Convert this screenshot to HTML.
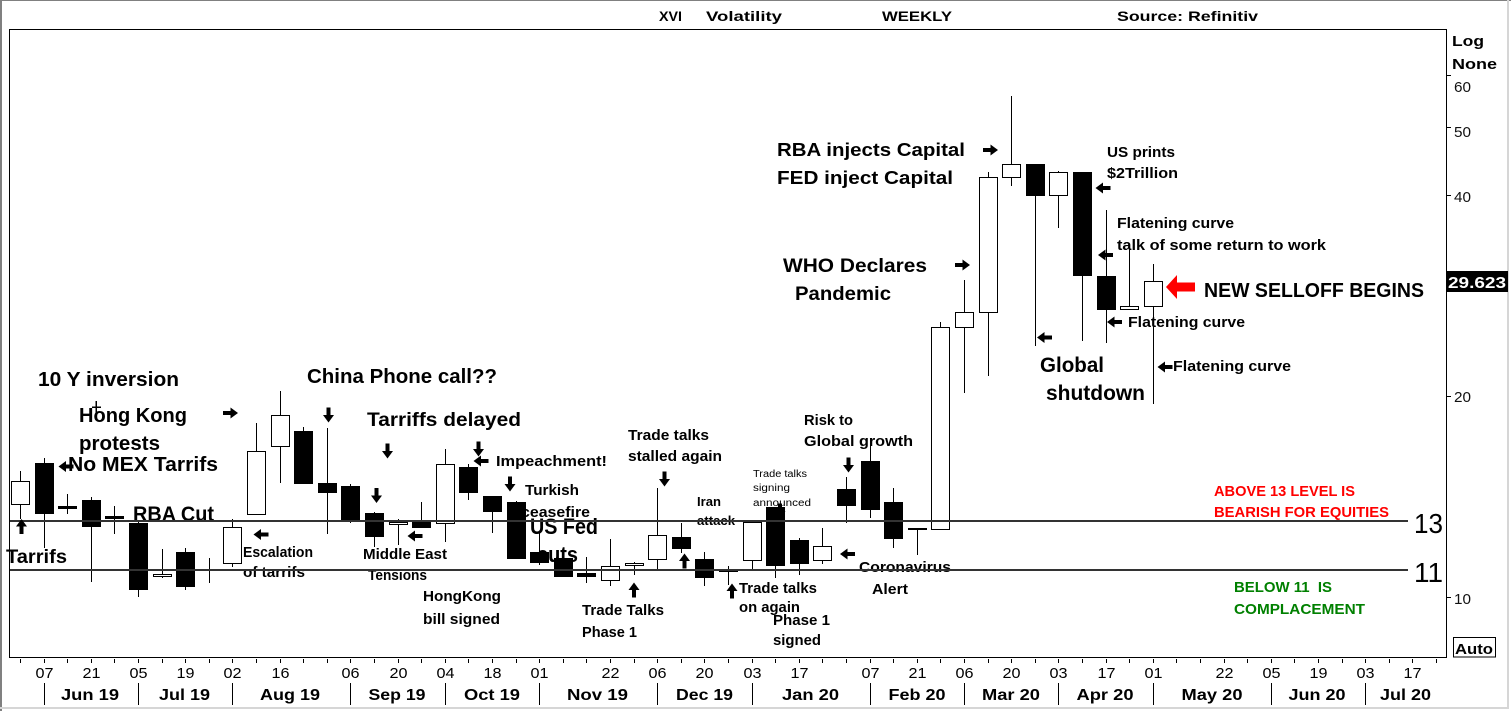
<!DOCTYPE html>
<html><head><meta charset="utf-8"><style>
html,body{margin:0;padding:0;background:#fff;}
svg{display:block;font-family:"Liberation Sans",Arial,sans-serif;}
</style></head><body>
<svg width="1511" height="711" viewBox="0 0 1511 711" xmlns="http://www.w3.org/2000/svg">
<defs>
<path id="ar" d="M-7.5,-2 H0 V-5.5 L7.5,0 L0,5.5 V2 H-7.5 Z" fill="#000"/>
</defs>
<rect x="0" y="0" width="1511" height="711" fill="#fff"/>
<!-- outer window borders -->
<rect x="0" y="0" width="2" height="711" fill="#808080"/>
<rect x="0" y="0" width="1511" height="1" fill="#808080"/>
<rect x="1507" y="0" width="2" height="709" fill="#d6d6d6"/>
<rect x="0" y="707" width="1509" height="2" fill="#d6d6d6"/>

<!-- header -->
<g font-weight="bold" font-size="14" fill="#000">
<text x="659" y="21" textLength="23" lengthAdjust="spacingAndGlyphs">XVI</text>
<text x="706" y="21" textLength="76" lengthAdjust="spacingAndGlyphs">Volatility</text>
<text x="882" y="21" textLength="70" lengthAdjust="spacingAndGlyphs">WEEKLY</text>
<text x="1117" y="21" textLength="141" lengthAdjust="spacingAndGlyphs">Source: Refinitiv</text>
</g>

<!-- annotations (under candles) -->
<g font-weight="bold" fill="#000" lengthAdjust="spacingAndGlyphs">
<text x="38" y="386" font-size="20" textLength="141" lengthAdjust="spacingAndGlyphs">10 Y inversion</text>
<text x="79" y="422" font-size="20" textLength="108" lengthAdjust="spacingAndGlyphs">Hong Kong</text>
<text x="79" y="450" font-size="20" textLength="81" lengthAdjust="spacingAndGlyphs">protests</text>
<text x="68" y="471" font-size="20" textLength="150" lengthAdjust="spacingAndGlyphs">No MEX Tarrifs</text>
<text x="133" y="521" font-size="21" textLength="81" lengthAdjust="spacingAndGlyphs">RBA Cut</text>
<text x="6" y="563" font-size="19" textLength="61" lengthAdjust="spacingAndGlyphs">Tarrifs</text>
<text x="307" y="383" font-size="20" textLength="190" lengthAdjust="spacingAndGlyphs">China Phone call??</text>
<text x="367" y="426" font-size="19" textLength="154" lengthAdjust="spacingAndGlyphs">Tarriffs delayed</text>
<text x="777" y="156" font-size="18" textLength="188" lengthAdjust="spacingAndGlyphs">RBA injects Capital</text>
<text x="777" y="184" font-size="18" textLength="176" lengthAdjust="spacingAndGlyphs">FED inject Capital</text>
<text x="783" y="272" font-size="19" textLength="144" lengthAdjust="spacingAndGlyphs">WHO Declares</text>
<text x="795" y="300" font-size="19" textLength="96" lengthAdjust="spacingAndGlyphs">Pandemic</text>
<text x="1040" y="372" font-size="21" textLength="64" lengthAdjust="spacingAndGlyphs">Global</text>
<text x="1046" y="400" font-size="21" textLength="99" lengthAdjust="spacingAndGlyphs">shutdown</text>
<text x="1204" y="297" font-size="20" textLength="220" lengthAdjust="spacingAndGlyphs">NEW SELLOFF BEGINS</text>
<text x="530" y="534" font-size="22" textLength="68" lengthAdjust="spacingAndGlyphs">US Fed</text>
<text x="537" y="562" font-size="22" textLength="41" lengthAdjust="spacingAndGlyphs">cuts</text>

<text x="243" y="557" font-size="15" textLength="70" lengthAdjust="spacingAndGlyphs">Escalation</text>
<text x="243" y="577" font-size="15" textLength="62" lengthAdjust="spacingAndGlyphs">of tarrifs</text>
<text x="363" y="559" font-size="15" textLength="84" lengthAdjust="spacingAndGlyphs">Middle East</text>
<text x="368" y="580" font-size="15" textLength="59" lengthAdjust="spacingAndGlyphs">Tensions</text>
<text x="423" y="601" font-size="15" textLength="78" lengthAdjust="spacingAndGlyphs">HongKong</text>
<text x="423" y="624" font-size="15" textLength="77" lengthAdjust="spacingAndGlyphs">bill signed</text>
<text x="496" y="466" font-size="15" textLength="111" lengthAdjust="spacingAndGlyphs">Impeachment!</text>
<text x="525" y="495" font-size="15" textLength="54" lengthAdjust="spacingAndGlyphs">Turkish</text>
<text x="521" y="517" font-size="15" textLength="69" lengthAdjust="spacingAndGlyphs">ceasefire</text>
<text x="628" y="440" font-size="15" textLength="81" lengthAdjust="spacingAndGlyphs">Trade talks</text>
<text x="628" y="461" font-size="15" textLength="94" lengthAdjust="spacingAndGlyphs">stalled again</text>
<text x="697" y="506" font-size="13" textLength="24" lengthAdjust="spacingAndGlyphs">Iran</text>
<text x="697" y="525" font-size="13" textLength="38" lengthAdjust="spacingAndGlyphs">attack</text>
<text x="739" y="593" font-size="15" textLength="78" lengthAdjust="spacingAndGlyphs">Trade talks</text>
<text x="739" y="612" font-size="15" textLength="61" lengthAdjust="spacingAndGlyphs">on again</text>
<text x="773" y="625" font-size="15" textLength="57" lengthAdjust="spacingAndGlyphs">Phase 1</text>
<text x="773" y="645" font-size="15" textLength="48" lengthAdjust="spacingAndGlyphs">signed</text>
<text x="582" y="615" font-size="15" textLength="82" lengthAdjust="spacingAndGlyphs">Trade Talks</text>
<text x="582" y="637" font-size="15" textLength="55" lengthAdjust="spacingAndGlyphs">Phase 1</text>
<text x="804" y="425" font-size="15" textLength="49" lengthAdjust="spacingAndGlyphs">Risk to</text>
<text x="804" y="446" font-size="15" textLength="109" lengthAdjust="spacingAndGlyphs">Global growth</text>
<text x="859" y="572" font-size="15" textLength="92" lengthAdjust="spacingAndGlyphs">Coronavirus</text>
<text x="872" y="594" font-size="15" textLength="36" lengthAdjust="spacingAndGlyphs">Alert</text>
<text x="1107" y="157" font-size="15" textLength="68" lengthAdjust="spacingAndGlyphs">US prints</text>
<text x="1107" y="178" font-size="15" textLength="71" lengthAdjust="spacingAndGlyphs">$2Trillion</text>
<text x="1117" y="228" font-size="15" textLength="117" lengthAdjust="spacingAndGlyphs">Flatening curve</text>
<text x="1117" y="250" font-size="15" textLength="209" lengthAdjust="spacingAndGlyphs">talk of some return to work</text>
<text x="1128" y="327" font-size="15" textLength="117" lengthAdjust="spacingAndGlyphs">Flatening curve</text>
<text x="1173" y="371" font-size="15" textLength="118" lengthAdjust="spacingAndGlyphs">Flatening curve</text>

<text x="1214" y="496" font-size="15" fill="#ff0000" textLength="141" lengthAdjust="spacingAndGlyphs">ABOVE 13 LEVEL IS</text>
<text x="1214" y="517" font-size="15" fill="#ff0000" textLength="175" lengthAdjust="spacingAndGlyphs">BEARISH FOR EQUITIES</text>
<text x="1234" y="592" font-size="15" fill="#008000" textLength="98" lengthAdjust="spacingAndGlyphs" xml:space="preserve">BELOW 11  IS</text>
<text x="1234" y="614" font-size="15" fill="#008000" textLength="131" lengthAdjust="spacingAndGlyphs">COMPLACEMENT</text>
</g>
<g font-size="10" fill="#000">
<text x="753" y="477" textLength="54" lengthAdjust="spacingAndGlyphs">Trade talks</text>
<text x="753" y="491" textLength="37" lengthAdjust="spacingAndGlyphs">signing</text>
<text x="753" y="506" textLength="58" lengthAdjust="spacingAndGlyphs">announced</text>
</g>
<!-- small cross on Hong Kong -->
<g stroke="#000" stroke-width="1.5" shape-rendering="crispEdges">
<line x1="96" y1="401" x2="96" y2="413"/>
<line x1="92" y1="407" x2="101" y2="407"/>
</g>

<!-- candles -->
<g stroke="#000" stroke-width="1" shape-rendering="crispEdges">
<line x1="20.5" y1="471" x2="20.5" y2="519"/><rect x="11.5" y="481.5" width="18" height="23" fill="#fff"/>
<line x1="44.5" y1="458" x2="44.5" y2="548"/><rect x="35.5" y="463.5" width="18" height="50" fill="#000"/>
<line x1="67.5" y1="494" x2="67.5" y2="514"/><rect x="58.5" y="506.5" width="18" height="2" fill="#000"/>
<line x1="91.5" y1="497" x2="91.5" y2="582"/><rect x="82.5" y="500.5" width="18" height="26" fill="#000"/>
<line x1="114.5" y1="506" x2="114.5" y2="534"/><rect x="105.5" y="516.5" width="18" height="2" fill="#000"/>
<line x1="138.5" y1="522" x2="138.5" y2="597"/><rect x="129.5" y="523.5" width="18" height="66" fill="#000"/>
<line x1="162.5" y1="549" x2="162.5" y2="578"/><rect x="153.5" y="574.5" width="18" height="2" fill="#fff"/>
<line x1="185.5" y1="548" x2="185.5" y2="590"/><rect x="176.5" y="552.5" width="18" height="34" fill="#000"/>
<line x1="209.5" y1="558" x2="209.5" y2="583"/>
<line x1="232.5" y1="519" x2="232.5" y2="567"/><rect x="223.5" y="527.5" width="18" height="36" fill="#fff"/>
<line x1="256.5" y1="423" x2="256.5" y2="514"/><rect x="247.5" y="451.5" width="18" height="63" fill="#fff"/>
<line x1="280.5" y1="391" x2="280.5" y2="483"/><rect x="271.5" y="415.5" width="18" height="31" fill="#fff"/>
<line x1="303.5" y1="427" x2="303.5" y2="483"/><rect x="294.5" y="431.5" width="18" height="52" fill="#000"/>
<line x1="327.5" y1="428" x2="327.5" y2="534"/><rect x="318.5" y="483.5" width="18" height="9" fill="#000"/>
<line x1="350.5" y1="484" x2="350.5" y2="523"/><rect x="341.5" y="486.5" width="18" height="34" fill="#000"/>
<line x1="374.5" y1="512" x2="374.5" y2="547"/><rect x="365.5" y="513.5" width="18" height="23" fill="#000"/>
<line x1="398.5" y1="519" x2="398.5" y2="545"/><rect x="389.5" y="522.5" width="18" height="2" fill="#fff"/>
<line x1="421.5" y1="502" x2="421.5" y2="527"/><rect x="412.5" y="521.5" width="18" height="6" fill="#000"/>
<line x1="445.5" y1="449" x2="445.5" y2="542"/><rect x="436.5" y="464.5" width="18" height="59" fill="#fff"/>
<line x1="468.5" y1="464" x2="468.5" y2="500"/><rect x="459.5" y="467.5" width="18" height="25" fill="#000"/>
<line x1="492.5" y1="496" x2="492.5" y2="533"/><rect x="483.5" y="496.5" width="18" height="15" fill="#000"/>
<line x1="516.5" y1="501" x2="516.5" y2="559"/><rect x="507.5" y="502.5" width="18" height="56" fill="#000"/>
<line x1="539.5" y1="533" x2="539.5" y2="565"/><rect x="530.5" y="552.5" width="18" height="10" fill="#000"/>
<line x1="563.5" y1="557" x2="563.5" y2="577"/><rect x="554.5" y="558.5" width="18" height="18" fill="#000"/>
<line x1="586.5" y1="557" x2="586.5" y2="583"/><rect x="577.5" y="573.5" width="18" height="3" fill="#000"/>
<line x1="610.5" y1="539" x2="610.5" y2="586"/><rect x="601.5" y="566.5" width="18" height="14" fill="#fff"/>
<line x1="634.5" y1="562" x2="634.5" y2="575"/><rect x="625.5" y="563.5" width="18" height="2" fill="#fff"/>
<line x1="657.5" y1="488" x2="657.5" y2="569"/><rect x="648.5" y="535.5" width="18" height="24" fill="#fff"/>
<line x1="681.5" y1="523" x2="681.5" y2="553"/><rect x="672.5" y="537.5" width="18" height="11" fill="#000"/>
<line x1="704.5" y1="552" x2="704.5" y2="586"/><rect x="695.5" y="559.5" width="18" height="18" fill="#000"/>
<line x1="728.5" y1="566" x2="728.5" y2="585"/><rect x="719.5" y="570.5" width="18" height="1" fill="#000"/>
<line x1="752.5" y1="522" x2="752.5" y2="569"/><rect x="743.5" y="522.5" width="18" height="38" fill="#fff"/>
<line x1="775.5" y1="507" x2="775.5" y2="578"/><rect x="766.5" y="507.5" width="18" height="58" fill="#000"/>
<line x1="799.5" y1="538" x2="799.5" y2="575"/><rect x="790.5" y="540.5" width="18" height="23" fill="#000"/>
<line x1="822.5" y1="528" x2="822.5" y2="564"/><rect x="813.5" y="546.5" width="18" height="14" fill="#fff"/>
<line x1="846.5" y1="477" x2="846.5" y2="523"/><rect x="837.5" y="489.5" width="18" height="16" fill="#000"/>
<line x1="870.5" y1="445" x2="870.5" y2="518"/><rect x="861.5" y="461.5" width="18" height="48" fill="#000"/>
<line x1="893.5" y1="488" x2="893.5" y2="548"/><rect x="884.5" y="502.5" width="18" height="36" fill="#000"/>
<line x1="917.5" y1="529" x2="917.5" y2="555"/><rect x="908.5" y="528.5" width="18" height="1" fill="#000"/>
<line x1="940.5" y1="322" x2="940.5" y2="529"/><rect x="931.5" y="327.5" width="18" height="202" fill="#fff"/>
<line x1="964.5" y1="280" x2="964.5" y2="393"/><rect x="955.5" y="312.5" width="18" height="15" fill="#fff"/>
<line x1="988.5" y1="172" x2="988.5" y2="376"/><rect x="979.5" y="177.5" width="18" height="135" fill="#fff"/>
<line x1="1011.5" y1="96" x2="1011.5" y2="186"/><rect x="1002.5" y="164.5" width="18" height="13" fill="#fff"/>
<line x1="1035.5" y1="164" x2="1035.5" y2="346"/><rect x="1026.5" y="164.5" width="18" height="31" fill="#000"/>
<line x1="1058.5" y1="171" x2="1058.5" y2="228"/><rect x="1049.5" y="172.5" width="18" height="23" fill="#fff"/>
<line x1="1082.5" y1="172" x2="1082.5" y2="341"/><rect x="1073.5" y="172.5" width="18" height="103" fill="#000"/>
<line x1="1106.5" y1="210" x2="1106.5" y2="343"/><rect x="1097.5" y="276.5" width="18" height="33" fill="#000"/>
<line x1="1129.5" y1="248" x2="1129.5" y2="309"/><rect x="1120.5" y="306.5" width="18" height="3" fill="#fff"/>
<line x1="1153.5" y1="264" x2="1153.5" y2="404"/><rect x="1144.5" y="281.5" width="18" height="25" fill="#fff"/>
</g>

<!-- 13 / 11 level lines -->
<g stroke="#333" stroke-width="2" shape-rendering="crispEdges">
<line x1="10" y1="521" x2="1408" y2="521"/>
<line x1="10" y1="570" x2="1408" y2="570"/>
</g>
<text x="1414" y="533" font-size="28" fill="#000" textLength="29" lengthAdjust="spacingAndGlyphs">13</text>
<text x="1414" y="582" font-size="28" fill="#000" textLength="29" lengthAdjust="spacingAndGlyphs">11</text>

<!-- arrows -->
<g>
<use href="#ar" transform="translate(21.5,526.5) rotate(-90)"/>
<use href="#ar" transform="translate(66,466.5) rotate(180)"/>
<use href="#ar" transform="translate(230.5,413)"/>
<use href="#ar" transform="translate(328.5,415) rotate(90)"/>
<use href="#ar" transform="translate(387.5,451) rotate(90)"/>
<use href="#ar" transform="translate(376.5,495.5) rotate(90)"/>
<use href="#ar" transform="translate(261,534.5) rotate(180)"/>
<use href="#ar" transform="translate(415,536) rotate(180)"/>
<use href="#ar" transform="translate(478.5,449) rotate(90)"/>
<use href="#ar" transform="translate(481,461) rotate(180)"/>
<use href="#ar" transform="translate(510,484) rotate(90)"/>
<use href="#ar" transform="translate(664.5,479) rotate(90)"/>
<use href="#ar" transform="translate(634,590) rotate(-90)"/>
<use href="#ar" transform="translate(684.5,561) rotate(-90)"/>
<use href="#ar" transform="translate(732,591) rotate(-90)"/>
<use href="#ar" transform="translate(780,511) rotate(90)"/>
<use href="#ar" transform="translate(847.5,554) rotate(180)"/>
<use href="#ar" transform="translate(848.5,465) rotate(90)"/>
<use href="#ar" transform="translate(962.5,265)"/>
<use href="#ar" transform="translate(990.5,150)"/>
<use href="#ar" transform="translate(1044.5,337.5) rotate(180)"/>
<use href="#ar" transform="translate(1103,188) rotate(180)"/>
<use href="#ar" transform="translate(1105.5,255) rotate(180)"/>
<use href="#ar" transform="translate(1114.5,322) rotate(180)"/>
<use href="#ar" transform="translate(1165,367) rotate(180)"/>
</g>
<path d="M1166,287 L1177,275 L1177,282.5 L1195,282.5 L1195,291.5 L1177,291.5 L1177,299 Z" fill="#ff0000"/>

<!-- plot frame -->
<rect x="9.5" y="29.5" width="1437" height="628" fill="none" stroke="#000" stroke-width="1.3" shape-rendering="crispEdges"/>

<!-- right axis -->
<g stroke="#000" stroke-width="1" shape-rendering="crispEdges">
<line x1="1446" y1="75.5" x2="1451" y2="75.5"/>
<line x1="1446" y1="127.5" x2="1451" y2="127.5"/>
<line x1="1446" y1="195.5" x2="1451" y2="195.5"/>
<line x1="1446" y1="396.5" x2="1451" y2="396.5"/>
<line x1="1446" y1="597.5" x2="1451" y2="597.5"/>
</g>
<g font-size="15" fill="#111">
<text x="1454" y="92" textLength="17" lengthAdjust="spacingAndGlyphs">60</text>
<text x="1454" y="137" textLength="17" lengthAdjust="spacingAndGlyphs">50</text>
<text x="1454" y="202" textLength="17" lengthAdjust="spacingAndGlyphs">40</text>
<text x="1454" y="402" textLength="17" lengthAdjust="spacingAndGlyphs">20</text>
<text x="1454" y="604" textLength="17" lengthAdjust="spacingAndGlyphs">10</text>
</g>
<g font-size="15" font-weight="bold" fill="#000">
<text x="1452" y="46" textLength="32" lengthAdjust="spacingAndGlyphs">Log</text>
<text x="1452" y="69" textLength="45" lengthAdjust="spacingAndGlyphs">None</text>
</g>
<rect x="1446" y="271" width="62" height="21" fill="#000"/>
<text x="1448" y="288" font-size="16" font-weight="bold" fill="#fff" textLength="58" lengthAdjust="spacingAndGlyphs">29.623</text>
<rect x="1453.5" y="637.5" width="42" height="19.5" fill="#fff" stroke="#000" stroke-width="1"/>
<text x="1455" y="654" font-size="15" font-weight="bold" fill="#000" textLength="38" lengthAdjust="spacingAndGlyphs">Auto</text>

<!-- bottom axis ticks -->
<g stroke="#000" stroke-width="1" shape-rendering="crispEdges">
<line x1="20.5" y1="659" x2="20.5" y2="663"/><line x1="44.5" y1="659" x2="44.5" y2="663"/><line x1="67.5" y1="659" x2="67.5" y2="663"/><line x1="91.5" y1="659" x2="91.5" y2="663"/><line x1="114.5" y1="659" x2="114.5" y2="663"/><line x1="138.5" y1="659" x2="138.5" y2="663"/><line x1="162.5" y1="659" x2="162.5" y2="663"/><line x1="185.5" y1="659" x2="185.5" y2="663"/><line x1="209.5" y1="659" x2="209.5" y2="663"/><line x1="232.5" y1="659" x2="232.5" y2="663"/>
<line x1="256.5" y1="659" x2="256.5" y2="663"/><line x1="280.5" y1="659" x2="280.5" y2="663"/><line x1="303.5" y1="659" x2="303.5" y2="663"/><line x1="327.5" y1="659" x2="327.5" y2="663"/><line x1="350.5" y1="659" x2="350.5" y2="663"/><line x1="374.5" y1="659" x2="374.5" y2="663"/><line x1="398.5" y1="659" x2="398.5" y2="663"/><line x1="421.5" y1="659" x2="421.5" y2="663"/><line x1="445.5" y1="659" x2="445.5" y2="663"/><line x1="468.5" y1="659" x2="468.5" y2="663"/>
<line x1="492.5" y1="659" x2="492.5" y2="663"/><line x1="516.5" y1="659" x2="516.5" y2="663"/><line x1="539.5" y1="659" x2="539.5" y2="663"/><line x1="563.5" y1="659" x2="563.5" y2="663"/><line x1="586.5" y1="659" x2="586.5" y2="663"/><line x1="610.5" y1="659" x2="610.5" y2="663"/><line x1="634.5" y1="659" x2="634.5" y2="663"/><line x1="657.5" y1="659" x2="657.5" y2="663"/><line x1="681.5" y1="659" x2="681.5" y2="663"/><line x1="704.5" y1="659" x2="704.5" y2="663"/>
<line x1="728.5" y1="659" x2="728.5" y2="663"/><line x1="752.5" y1="659" x2="752.5" y2="663"/><line x1="775.5" y1="659" x2="775.5" y2="663"/><line x1="799.5" y1="659" x2="799.5" y2="663"/><line x1="822.5" y1="659" x2="822.5" y2="663"/><line x1="846.5" y1="659" x2="846.5" y2="663"/><line x1="870.5" y1="659" x2="870.5" y2="663"/><line x1="893.5" y1="659" x2="893.5" y2="663"/><line x1="917.5" y1="659" x2="917.5" y2="663"/><line x1="940.5" y1="659" x2="940.5" y2="663"/>
<line x1="964.5" y1="659" x2="964.5" y2="663"/><line x1="988.5" y1="659" x2="988.5" y2="663"/><line x1="1011.5" y1="659" x2="1011.5" y2="663"/><line x1="1035.5" y1="659" x2="1035.5" y2="663"/><line x1="1058.5" y1="659" x2="1058.5" y2="663"/><line x1="1082.5" y1="659" x2="1082.5" y2="663"/><line x1="1106.5" y1="659" x2="1106.5" y2="663"/><line x1="1129.5" y1="659" x2="1129.5" y2="663"/><line x1="1153.5" y1="659" x2="1153.5" y2="663"/><line x1="1176.5" y1="659" x2="1176.5" y2="663"/>
<line x1="1200.5" y1="659" x2="1200.5" y2="663"/><line x1="1224.5" y1="659" x2="1224.5" y2="663"/><line x1="1247.5" y1="659" x2="1247.5" y2="663"/><line x1="1271.5" y1="659" x2="1271.5" y2="663"/><line x1="1294.5" y1="659" x2="1294.5" y2="663"/><line x1="1318.5" y1="659" x2="1318.5" y2="663"/><line x1="1342.5" y1="659" x2="1342.5" y2="663"/><line x1="1365.5" y1="659" x2="1365.5" y2="663"/><line x1="1389.5" y1="659" x2="1389.5" y2="663"/><line x1="1412.5" y1="659" x2="1412.5" y2="663"/><line x1="1436.5" y1="659" x2="1436.5" y2="663"/>
</g>
<!-- day labels -->
<g font-size="15" fill="#000" text-anchor="middle">
<text x="44.5" y="678" textLength="18" lengthAdjust="spacingAndGlyphs">07</text>
<text x="91.5" y="678" textLength="18" lengthAdjust="spacingAndGlyphs">21</text>
<text x="138.5" y="678" textLength="18" lengthAdjust="spacingAndGlyphs">05</text>
<text x="185.5" y="678" textLength="18" lengthAdjust="spacingAndGlyphs">19</text>
<text x="232.5" y="678" textLength="18" lengthAdjust="spacingAndGlyphs">02</text>
<text x="280.5" y="678" textLength="18" lengthAdjust="spacingAndGlyphs">16</text>
<text x="350.5" y="678" textLength="18" lengthAdjust="spacingAndGlyphs">06</text>
<text x="398.5" y="678" textLength="18" lengthAdjust="spacingAndGlyphs">20</text>
<text x="445.5" y="678" textLength="18" lengthAdjust="spacingAndGlyphs">04</text>
<text x="492.5" y="678" textLength="18" lengthAdjust="spacingAndGlyphs">18</text>
<text x="539.5" y="678" textLength="18" lengthAdjust="spacingAndGlyphs">01</text>
<text x="610.5" y="678" textLength="18" lengthAdjust="spacingAndGlyphs">22</text>
<text x="657.5" y="678" textLength="18" lengthAdjust="spacingAndGlyphs">06</text>
<text x="704.5" y="678" textLength="18" lengthAdjust="spacingAndGlyphs">20</text>
<text x="752.5" y="678" textLength="18" lengthAdjust="spacingAndGlyphs">03</text>
<text x="799.5" y="678" textLength="18" lengthAdjust="spacingAndGlyphs">17</text>
<text x="870.5" y="678" textLength="18" lengthAdjust="spacingAndGlyphs">07</text>
<text x="917.5" y="678" textLength="18" lengthAdjust="spacingAndGlyphs">21</text>
<text x="964.5" y="678" textLength="18" lengthAdjust="spacingAndGlyphs">06</text>
<text x="1011.5" y="678" textLength="18" lengthAdjust="spacingAndGlyphs">20</text>
<text x="1058.5" y="678" textLength="18" lengthAdjust="spacingAndGlyphs">03</text>
<text x="1106.5" y="678" textLength="18" lengthAdjust="spacingAndGlyphs">17</text>
<text x="1153.5" y="678" textLength="18" lengthAdjust="spacingAndGlyphs">01</text>
<text x="1224.5" y="678" textLength="18" lengthAdjust="spacingAndGlyphs">22</text>
<text x="1271.5" y="678" textLength="18" lengthAdjust="spacingAndGlyphs">05</text>
<text x="1318.5" y="678" textLength="18" lengthAdjust="spacingAndGlyphs">19</text>
<text x="1365.5" y="678" textLength="18" lengthAdjust="spacingAndGlyphs">03</text>
<text x="1412.5" y="678" textLength="18" lengthAdjust="spacingAndGlyphs">17</text>
</g>
<!-- month separators -->
<g stroke="#000" stroke-width="1" shape-rendering="crispEdges">
<line x1="44.5" y1="683" x2="44.5" y2="705"/><line x1="138.5" y1="683" x2="138.5" y2="705"/><line x1="232.5" y1="683" x2="232.5" y2="705"/><line x1="350.5" y1="683" x2="350.5" y2="705"/><line x1="445.5" y1="683" x2="445.5" y2="705"/><line x1="539.5" y1="683" x2="539.5" y2="705"/><line x1="657.5" y1="683" x2="657.5" y2="705"/><line x1="752.5" y1="683" x2="752.5" y2="705"/><line x1="870.5" y1="683" x2="870.5" y2="705"/><line x1="964.5" y1="683" x2="964.5" y2="705"/><line x1="1058.5" y1="683" x2="1058.5" y2="705"/><line x1="1153.5" y1="683" x2="1153.5" y2="705"/><line x1="1271.5" y1="683" x2="1271.5" y2="705"/><line x1="1365.5" y1="683" x2="1365.5" y2="705"/>
</g>
<!-- month labels -->
<g font-size="16" font-weight="bold" fill="#000" text-anchor="middle">
<text x="90" y="700" textLength="58" lengthAdjust="spacingAndGlyphs">Jun 19</text>
<text x="184.5" y="700" textLength="51" lengthAdjust="spacingAndGlyphs">Jul 19</text>
<text x="290" y="700" textLength="60" lengthAdjust="spacingAndGlyphs">Aug 19</text>
<text x="397" y="700" textLength="57" lengthAdjust="spacingAndGlyphs">Sep 19</text>
<text x="492" y="700" textLength="56" lengthAdjust="spacingAndGlyphs">Oct 19</text>
<text x="597.5" y="700" textLength="61" lengthAdjust="spacingAndGlyphs">Nov 19</text>
<text x="704.5" y="700" textLength="57" lengthAdjust="spacingAndGlyphs">Dec 19</text>
<text x="810.5" y="700" textLength="57" lengthAdjust="spacingAndGlyphs">Jan 20</text>
<text x="917" y="700" textLength="57" lengthAdjust="spacingAndGlyphs">Feb 20</text>
<text x="1011" y="700" textLength="58" lengthAdjust="spacingAndGlyphs">Mar 20</text>
<text x="1105" y="700" textLength="57" lengthAdjust="spacingAndGlyphs">Apr 20</text>
<text x="1212" y="700" textLength="61" lengthAdjust="spacingAndGlyphs">May 20</text>
<text x="1317" y="700" textLength="57" lengthAdjust="spacingAndGlyphs">Jun 20</text>
<text x="1405.5" y="700" textLength="51" lengthAdjust="spacingAndGlyphs">Jul 20</text>
</g>
</svg>
</body></html>
